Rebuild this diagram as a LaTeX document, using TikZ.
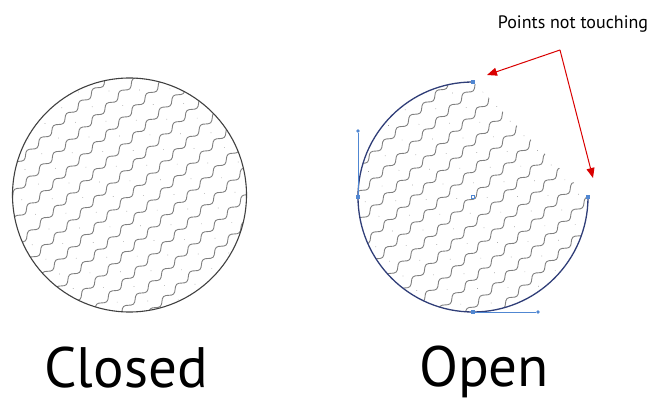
\documentclass[tikz,border=0pt]{standalone}
\usepackage{fontspec}
\setmainfont{PT Sans}
\usetikzlibrary{arrows.meta,decorations.pathmorphing}
\colorlet{ptred}{red!85!black}
\colorlet{ptgray}{black!50}
\definecolor{ptnavy}{RGB}{48,62,120}
\definecolor{ptblue}{RGB}{80,135,210}
\tikzset{
  pthatch/.style={decorate,decoration={snake,segment length=18pt,amplitude=2.5pt},
                  ptgray,line width=0.9pt},
  ptdot/.style={fill=ptgray!70},
  ptrim/.style={line width=1.1pt,black!75},
  ptopen/.style={line width=1.3pt,ptnavy},
  pthandle/.style={line width=0.6pt,ptblue},
  ptanchor/.style={rectangle,fill=ptblue,minimum size=4pt,inner sep=0pt},
  ptend/.style={circle,fill=ptblue,minimum size=3.6pt,inner sep=0pt},
  ptcentre/.style={rectangle,draw=ptblue,line width=0.5pt,minimum size=3pt,inner sep=0pt},
  ptarrow/.style={-{Triangle[length=10pt,width=8pt]},line width=1pt,ptred},
  ptbig/.style={font=\fontsize{57}{60}\selectfont,anchor=base,inner sep=0pt},
  ptnote/.style={font=\fontsize{18}{20}\selectfont,anchor=base,inner sep=0pt}
}

\begin{document}
\begin{tikzpicture}[x=1pt,y=1pt]
  \useasboundingbox (0,0) rectangle (667,402);

  % closed circle
  \coordinate (closed) at (129.5,207);
  \begin{scope}
    \clip (closed) circle (117);
    \begin{scope}[shift={(closed)},rotate=43]
      \foreach \k in {-7,...,7}{
        \draw[pthatch] (-140,\k*20) -- (140,\k*20);
        \foreach \j in {-6,...,6}
          \fill[ptdot] (\j*23+10,\k*20+10) circle (0.5);
      }
    \end{scope}
  \end{scope}
  \draw[ptrim] (closed) circle (117);

  % open circle
  \coordinate (open) at (473,205);
  \begin{scope}
    \clip (473,320) arc[start angle=90,end angle=360,radius=115] -- cycle;
    \begin{scope}[shift={(open)},rotate=43]
      \foreach \k in {-7,...,7}{
        \draw[pthatch] (-140,\k*20) -- (140,\k*20);
        \foreach \j in {-6,...,6}
          \fill[ptdot] (\j*23+10,\k*20+10) circle (0.5);
      }
    \end{scope}
  \end{scope}
  \draw[ptopen] (473,320) arc[start angle=90,end angle=360,radius=115];

  \node[ptanchor] (top) at (473,320) {};
  \node[ptanchor] (right) at (588,205) {};
  \node[ptanchor] (left) at (358,205) {};
  \node[ptanchor] (bottom) at (473,90) {};
  \node[ptend] (leftH) at (358,271) {};
  \node[ptend] (bottomH) at (538,90) {};
  \node[ptcentre] (centre) at (open) {};
  \draw[pthandle] (left) -- (leftH);
  \draw[pthandle] (bottom) -- (bottomH);

  % callout
  \node[ptnote] (note) at (573,373) {Points not touching};
  \coordinate (fork) at (560,352);
  \coordinate (gapTop) at (487,327);
  \coordinate (gapRight) at (593,224);
  \draw[ptarrow] (fork) -- (gapTop);
  \draw[ptarrow] (fork) -- (gapRight);

  % labels
  \node[ptbig] (closedlabel) at (126,15) {Closed};
  \node[ptbig] (openlabel) at (484,16) {Open};
\end{tikzpicture}
\end{document}
